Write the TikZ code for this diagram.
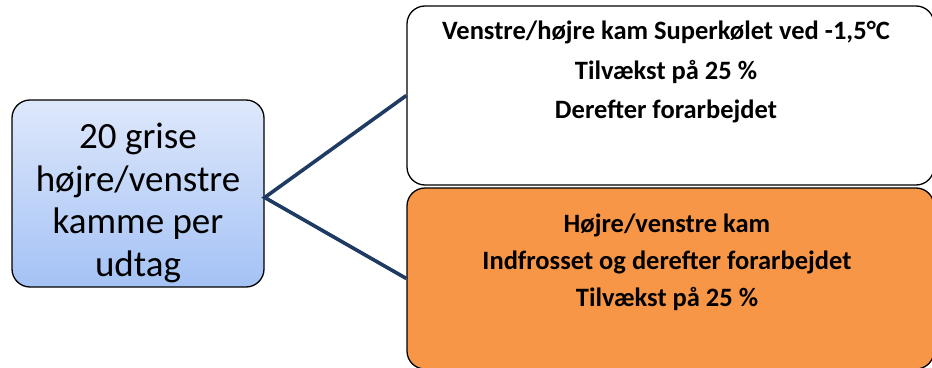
\documentclass[tikz,border=0pt]{standalone}
\usepackage{fontspec}
\setmainfont{Carlito}
\usetikzlibrary{calc}
\definecolor{navy}{HTML}{1F3B63}
\definecolor{boxorange}{HTML}{F79646}
\definecolor{bluetop}{HTML}{DEE8FB}
\definecolor{bluebot}{HTML}{A4C2F5}
\tikzset{
  roundbox/.style={draw=black, line width=1.3pt, rounded corners=18pt, inner sep=0pt},
  connector/.style={draw=navy, line width=3.6pt},
  bigtext/.style={font=\fontsize{37}{42.5}\selectfont, align=center, inner sep=0pt},
  boldtext/.style={font=\bfseries\fontsize{26.5}{39.5}\selectfont, align=center, inner sep=0pt},
}
\begin{document}
\begin{tikzpicture}[x=1pt,y=-1pt]
\useasboundingbox (0,0) rectangle (932,367);
\node[roundbox, minimum width=252pt, minimum height=187pt, top color=bluetop, bottom color=bluebot] (L) at (138,193.5) {};
\node[bigtext] (Lt) at (138,203) {20 grise\\højre/venstre\\kamme per\\udtag};
\node[roundbox, fill=white, minimum width=527pt, minimum height=179pt] (T) at (670.5,95.5) {};
\node[roundbox, fill=boxorange, minimum width=527pt, minimum height=181pt] (O) at (670.5,278.5) {};
\node[boldtext, anchor=north] (Tt) at (666,21) {Venstre/højre kam Superkølet ved -1,5°C\\Tilvækst på 25 \%\\Derefter forarbejdet};
\node[boldtext, anchor=north, font=\bfseries\fontsize{26.5}{37}\selectfont] (Ot) at (667,214) {Højre/venstre kam\\Indfrosset og derefter forarbejdet\\Tilvækst på 25 \%};
\draw[connector, line join=miter] (T.west) -- ([yshift=-4pt]L.east) -- (O.west);
\end{tikzpicture}
\end{document}
